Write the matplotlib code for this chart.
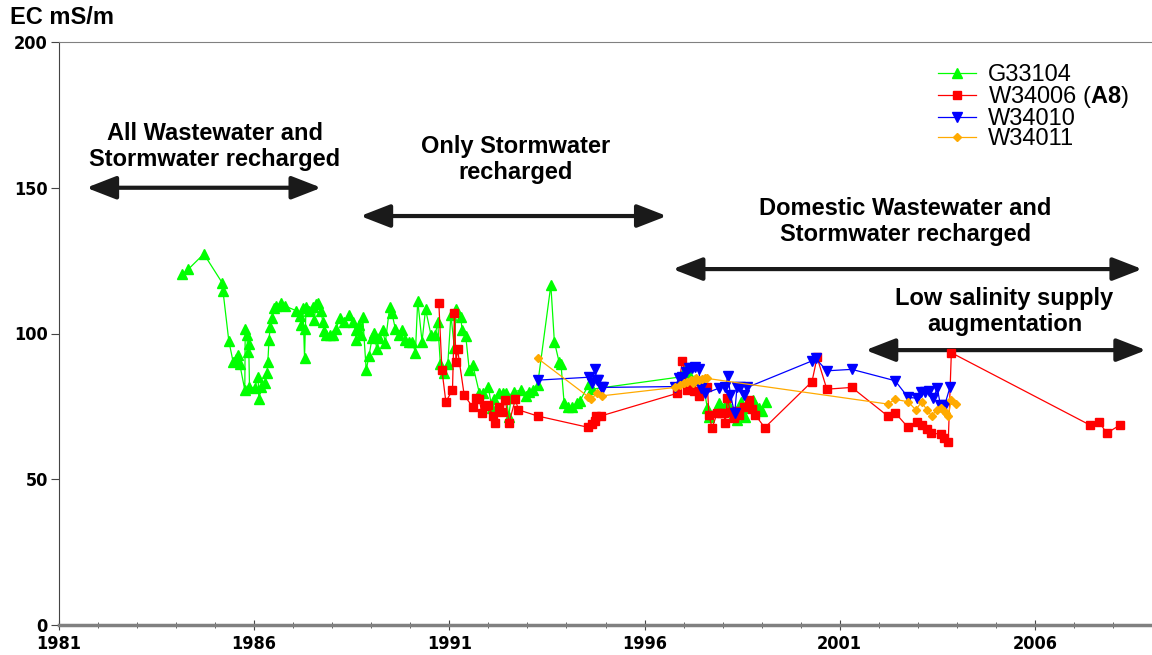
import matplotlib
matplotlib.use('Agg')
import matplotlib.pyplot as plt
import numpy as np

plt.rcParams['font.family'] = ['Liberation Sans', 'DejaVu Sans']
plt.rcParams['mathtext.fontset'] = 'custom'
plt.rcParams['mathtext.rm'] = 'Liberation Sans'
plt.rcParams['mathtext.bf'] = 'Liberation Sans:bold'

# G33104
green_years = [1984.16, 1984.31, 1984.71, 1985.18, 1985.20, 1985.35, 1985.46, 1985.54, 1985.59, 1985.63,
               1985.76, 1985.77, 1985.81, 1985.84, 1985.86, 1985.88, 1986.01, 1986.10, 1986.12, 1986.18,
               1986.27, 1986.33, 1986.35, 1986.38, 1986.41, 1986.46, 1986.50, 1986.57, 1986.69, 1986.78,
               1987.08, 1987.17, 1987.20, 1987.25, 1987.29, 1987.31, 1987.33, 1987.40, 1987.50, 1987.54,
               1987.58, 1987.63, 1987.71, 1987.76, 1987.80, 1987.85, 1987.93, 1988.01, 1988.10, 1988.19,
               1988.31, 1988.44, 1988.53, 1988.60, 1988.61, 1988.68, 1988.74, 1988.78, 1988.87, 1988.94,
               1989.02, 1989.08, 1989.14, 1989.21, 1989.29, 1989.36, 1989.47, 1989.53, 1989.62, 1989.72,
               1989.79, 1989.87, 1989.96, 1990.05, 1990.13, 1990.19, 1990.30, 1990.39, 1990.53, 1990.64,
               1990.70, 1990.77, 1990.87, 1990.96, 1991.04, 1991.13, 1991.17, 1991.30, 1991.32, 1991.42,
               1991.51, 1991.60, 1991.77, 1991.85, 1992.00, 1992.09, 1992.15, 1992.28, 1992.37, 1992.45,
               1992.52, 1992.58, 1992.66, 1992.83, 1992.96, 1993.05, 1993.13, 1993.26, 1993.60, 1993.69,
               1993.81, 1993.86, 1993.94, 1994.03, 1994.14, 1994.26, 1994.35, 1994.58, 1994.65, 1996.97,
               1997.04, 1997.15, 1997.30, 1997.50, 1997.61, 1997.65, 1997.90, 1997.98, 1998.12, 1998.20,
               1998.29, 1998.37, 1998.46, 1998.52, 1998.58, 1998.67, 1998.77, 1998.84, 1998.93, 1999.01,
               1999.10]
green_ec = [120.3, 122.0, 127.3, 117.4, 114.7, 97.5, 90.3, 91.1, 92.6, 89.5,
            80.6, 101.4, 99.5, 93.8, 96.4, 81.8, 81.2, 85.2, 77.4, 81.8,
            82.9, 86.3, 90.3, 97.8, 102.3, 105.2, 108.6, 109.5, 110.6, 109.5,
            107.8, 106.0, 102.9, 108.6, 91.6, 101.4, 109.2, 107.6, 109.2, 104.5,
            110.0, 110.6, 107.6, 104.0, 101.0, 99.5, 99.5, 99.5, 101.7, 105.2,
            104.0, 106.3, 104.0, 101.2, 97.9, 102.9, 99.5, 105.8, 87.5, 92.3,
            98.4, 100.3, 94.6, 98.4, 101.2, 96.9, 109.0, 106.9, 101.4, 99.5,
            101.2, 97.9, 97.2, 97.2, 93.4, 111.3, 97.2, 108.3, 99.5, 99.5,
            104.0, 89.5, 86.3, 89.5, 106.3, 94.9, 108.3, 105.8, 101.2, 99.1,
            87.5, 89.2, 79.5, 79.5, 81.5, 74.3, 77.4, 79.7, 79.7, 79.5,
            71.5, 77.8, 80.0, 80.6, 78.6, 80.0, 80.6, 82.3, 116.6, 97.2,
            90.3, 89.5, 76.1, 74.7, 74.9, 76.1, 77.0, 82.7, 80.9, 85.2,
            87.8, 86.0, 84.0, 83.0, 74.3, 71.5, 76.1, 74.6, 76.6, 74.0,
            72.6, 70.3, 76.4, 74.5, 71.5, 76.1, 77.2, 75.5, 74.6, 73.4,
            76.4]

# W34006 (A8)
red_years = [1990.73, 1990.81, 1990.91, 1991.08, 1991.13, 1991.17, 1991.21, 1991.38, 1991.60, 1991.68,
             1991.77, 1991.83, 1991.92, 1992.00, 1992.11, 1992.18, 1992.26, 1992.35, 1992.43, 1992.53,
             1992.69, 1992.77, 1993.26, 1994.56, 1994.65, 1994.72, 1994.75, 1994.88, 1996.84, 1996.97,
             1997.10, 1997.18, 1997.27, 1997.39, 1997.48, 1997.61, 1997.65, 1997.73, 1997.86, 1997.95,
             1998.03, 1998.07, 1998.12, 1998.20, 1998.29, 1998.35, 1998.42, 1998.55, 1998.67, 1998.75,
             1998.84, 1999.08, 2000.29, 2000.42, 2000.67, 2001.31, 2002.23, 2002.42, 2002.75, 2002.98,
             2003.10, 2003.23, 2003.34, 2003.60, 2003.68, 2003.78, 2003.86, 2007.41, 2007.64, 2007.84,
             2008.18]
red_ec = [110.6, 87.5, 76.6, 80.6, 106.9, 90.3, 94.6, 78.9, 74.7, 77.8,
          77.4, 72.6, 75.0, 75.5, 71.7, 69.4, 74.9, 73.0, 77.2, 69.4,
          77.4, 73.8, 71.7, 67.8, 69.0, 70.0, 71.7, 71.7, 79.5, 90.6,
          80.6, 81.0, 80.3, 78.7, 80.5, 81.8, 72.0, 67.7, 72.6, 72.6,
          72.6, 69.2, 77.8, 73.0, 70.9, 73.5, 72.0, 74.9, 77.2, 74.0,
          72.0, 67.7, 83.5, 91.8, 80.9, 81.5, 71.7, 72.8, 67.8, 69.8,
          68.6, 67.1, 65.8, 65.5, 64.0, 62.9, 93.4, 68.6, 69.8, 65.8,
          68.6]

# W34010
blue_years = [1993.26, 1994.58, 1994.65, 1994.73, 1994.78, 1994.82, 1994.88, 1994.93, 1996.79, 1996.88,
              1996.97, 1997.05, 1997.14, 1997.22, 1997.29, 1997.39, 1997.44, 1997.56, 1997.90, 1998.07,
              1998.14, 1998.20, 1998.31, 1998.37, 1998.45, 1998.55, 1998.63, 2000.29, 2000.38, 2000.67,
              2001.31, 2002.42, 2002.75, 2002.98, 2003.09, 2003.19, 2003.29, 2003.39, 2003.50, 2003.58,
              2003.69, 2003.83]
blue_ec = [84.0, 85.0, 83.0, 87.7, 84.0, 84.0, 81.8, 81.5, 81.8, 84.9,
           85.0, 86.9, 88.0, 88.0, 88.6, 87.8, 81.2, 79.5, 81.2, 81.8,
           85.5, 78.9, 72.6, 81.8, 81.8, 78.9, 81.5, 90.6, 91.5, 87.2,
           87.7, 83.8, 78.1, 77.8, 80.0, 80.0, 80.4, 77.8, 81.2, 75.5,
           75.5, 81.8]

# W34011
orange_years = [1993.26, 1994.56, 1994.62, 1994.79, 1994.90, 1996.79, 1996.92, 1997.00, 1997.09, 1997.18,
                1997.25, 1997.31, 1997.39, 1997.48, 1997.56, 1997.60, 2002.23, 2002.42, 2002.75, 2002.95,
                2003.10, 2003.23, 2003.36, 2003.48, 2003.60, 2003.66, 2003.72, 2003.78, 2003.86, 2003.98]
orange_ec = [91.5, 78.3, 77.4, 79.5, 78.6, 81.5, 82.3, 83.0, 83.5, 84.0,
             83.0, 84.6, 84.0, 84.3, 84.9, 84.6, 75.8, 77.4, 76.6, 73.8,
             76.6, 73.8, 71.7, 73.8, 74.3, 73.5, 72.8, 71.7, 77.2, 75.8]

year_ticks = [1981, 1986, 1991, 1996, 2001, 2006]
ec_ticks = [0, 50, 100, 150, 200]

fig = plt.figure(figsize=(11.52, 6.55), dpi=100)
ax = fig.add_axes([59 / 1152, 1 - 625 / 655, 1 - 59 / 1152, (625 - 42) / 655])

ax.plot(green_years, green_ec, color='#00ff00', lw=0.9, marker='^', ms=6.5, mec='#00ff00', label='G33104', zorder=3)
ax.plot(red_years, red_ec, color='#ff0000', lw=0.9, marker='s', ms=6, mec='#ff0000', label='W34006 ($\\mathbf{A8}$)', zorder=4)
ax.plot(blue_years, blue_ec, color='#0000ff', lw=0.9, marker='v', ms=6.5, mec='#0000ff', label='W34010', zorder=5)
ax.plot(orange_years, orange_ec, color='#ffaa00', lw=0.9, marker='D', ms=4.5, mec='#ffaa00', label='W34011', zorder=6)

ax.set_xlim(1981, 2009)
ax.set_ylim(0, 200)
ax.set_xticks(year_ticks)
ax.set_xticks(np.arange(1981, 2010), minor=True)
ax.set_yticks(ec_ticks)

tick_font = dict(family='DejaVu Sans', stretch='condensed', weight='bold', size=13)
ax.set_xticklabels([str(y) for y in year_ticks], **tick_font)
ax.set_yticklabels([str(v) for v in ec_ticks], **tick_font)
ax.tick_params(axis='x', which='major', direction='inout', length=7, pad=4, color='#444444')
ax.tick_params(axis='x', which='minor', direction='inout', length=5, color='#444444')
ax.tick_params(axis='y', which='major', direction='out', length=6, pad=2, color='#444444')

ax.spines['bottom'].set_color('#808080')
ax.spines['bottom'].set_linewidth(2.5)
ax.spines['left'].set_color('#444444')
ax.spines['left'].set_linewidth(0.8)
ax.spines['top'].set_color('#808080')
ax.spines['top'].set_linewidth(0.8)
ax.spines['right'].set_visible(False)

fig.text(10 / 1152, 1 - 18 / 655, 'EC mS/m', fontsize=17, fontweight='bold', va='center', ha='left')

# period annotations
arrow_style = dict(arrowstyle='<|-|>,head_length=0.9,head_width=0.35', lw=3, color='#1a1a1a',
                   shrinkA=0, shrinkB=0, mutation_scale=20)
periods = [
    ('All Wastewater and\nStormwater recharged', 1984.99, 164.1, 1981.70, 1987.72, 150.0),
    ('Only Stormwater\nrecharged', 1992.69, 159.7, 1988.72, 1996.57, 140.3),
    ('Domestic Wastewater and\nStormwater recharged', 2002.69, 138.4, 1996.72, 2008.75, 122.1),
    ('Low salinity supply\naugmentation', 2005.22, 107.5, 2001.66, 2008.85, 94.3),
]
for label, tx, ty, x0, x1, ya in periods:
    ax.text(tx, ty, label, ha='center', va='center', fontsize=17, fontweight='bold', linespacing=1.15)
    ax.annotate('', xy=(x1, ya), xytext=(x0, ya), arrowprops=arrow_style)

leg = ax.legend(loc='upper left', bbox_to_anchor=(938 / 1152, 1 - 64 / 655), bbox_transform=fig.transFigure,
                frameon=False, fontsize=17, labelspacing=-0.08, handlelength=1.6, handletextpad=0.5,
                borderpad=0, borderaxespad=0)

fig.savefig('out.png', dpi=100)
